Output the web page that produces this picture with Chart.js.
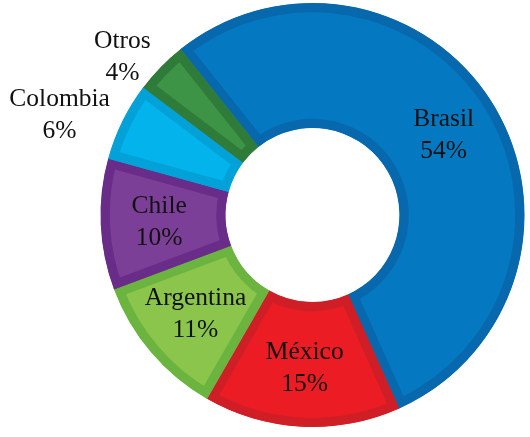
<!DOCTYPE html>
<html>
<head>
<meta charset="utf-8">
<script src="https://cdn.jsdelivr.net/npm/chart.js@4"></script>
<style>
  html, body { margin: 0; padding: 0; background: #fff; }
  #wrap { width: 530px; height: 437px; }
</style>
</head>
<body>
<div id="wrap"><canvas id="chart" width="530" height="437"></canvas></div>
<script>
const paises = ['Brasil', 'México', 'Argentina', 'Chile', 'Colombia', 'Otros'];
const porcentajes = [54, 15, 11, 10, 6, 4];
const etiquetasFuera = ['Colombia', 'Otros'];

const colores = ['#0479C1', '#EC1C24', '#8CC54B', '#7C3F98', '#03B3EC', '#3D9446'];
const bordes = ['#0868AE', '#D01E27', '#6BB440', '#692D89', '#02A2D9', '#2F7B3A'];

// labels drawn straight on the canvas, no datalabels plugin available
const labelPlugin = {
  id: 'sliceLabels',
  afterDatasetsDraw(chart) {
    const ctx = chart.ctx;
    const meta = chart.getDatasetMeta(0);
    ctx.save();
    ctx.font = '25.5px "Liberation Serif", "Times New Roman", serif';
    ctx.fillStyle = '#111';
    ctx.textBaseline = 'middle';
    ctx.textAlign = 'center';
    meta.data.forEach((arc, i) => {
      const p = arc.getProps(['x', 'y', 'startAngle', 'endAngle', 'innerRadius', 'outerRadius'], true);
      const mid = (p.startAngle + p.endAngle) / 2;
      const name = paises[i];
      const pct = porcentajes[i] + '%';
      let x, y;
      if (etiquetasFuera.includes(name)) {
        const r = p.outerRadius + 14;
        const w = Math.max(ctx.measureText(name).width, ctx.measureText(pct).width);
        x = p.x + Math.cos(mid) * r - w / 2;
        y = p.y + Math.sin(mid) * r;
      } else {
        const r = (p.innerRadius + p.outerRadius) / 2 + 4;
        x = p.x + Math.cos(mid) * r;
        y = p.y + Math.sin(mid) * r;
      }
      ctx.fillText(name, x, y - 15.5);
      ctx.fillText(pct, x, y + 16.5);
    });
    ctx.restore();
  }
};

new Chart(document.getElementById('chart'), {
  type: 'doughnut',
  data: {
    labels: paises,
    datasets: [{
      data: porcentajes,
      backgroundColor: colores,
      borderColor: bordes,
      borderWidth: 9,
      borderAlign: 'inner',
      borderJoinStyle: 'miter'
    }]
  },
  options: {
    responsive: false,
    animation: false,
    rotation: -38.5,
    cutout: '41%',
    layout: { padding: { left: 100, right: 5, top: 3, bottom: 10 } },
    plugins: {
      legend: { display: false },
      tooltip: { enabled: false }
    }
  },
  plugins: [labelPlugin]
});
</script>
</body>
</html>
